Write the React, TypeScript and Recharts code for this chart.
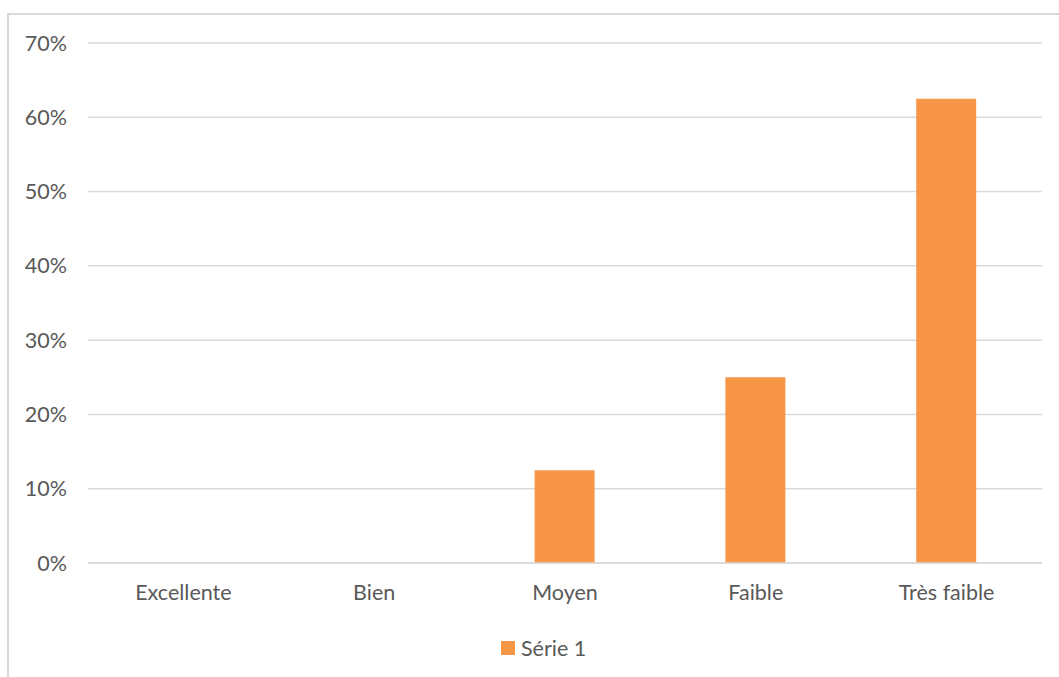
import React from 'react';
import { BarChart, Bar, XAxis, YAxis, CartesianGrid, Legend } from 'recharts';

const categories = ['Excellente', 'Bien', 'Moyen', 'Faible', 'Très faible'];
const serie1 = [0, 0, 0.125, 0.25, 0.625];
const yTicks = [0, 0.1, 0.2, 0.3, 0.4, 0.5, 0.6, 0.7];
const seriesName = 'Série 1';

const data = categories.map((name, i) => ({ name, value: serie1[i] }));

const ORANGE = '#F79646';
const TEXT = '#595959';
const GRID = '#D9D9D9';
const FONT = 'Lato, "Open Sans", sans-serif';
const FONT_SIZE = 21.5;

const LegendContent = () => (
  <div style={{ display: 'flex', alignItems: 'center', marginLeft: 492, height: 22, fontFamily: FONT, fontSize: FONT_SIZE, color: TEXT }}>
    <span style={{ width: 14, height: 14, background: ORANGE, display: 'inline-block', marginRight: 6 }} />
    <span>{seriesName}</span>
  </div>
);

export default function App() {
  return (
    <div style={{ position: 'fixed', inset: 0, overflow: 'hidden', background: '#fff' }}>
      <div
        style={{
          position: 'absolute',
          left: 7,
          top: 13,
          width: 1060,
          height: 670,
          borderTop: `2px solid ${GRID}`,
          borderLeft: `2px solid ${GRID}`,
        }}
      >
        <BarChart width={1050} height={660} data={data} margin={{ top: 28, right: 17, bottom: 40, left: 0 }}>
          <CartesianGrid vertical={false} stroke={GRID} strokeWidth={1.5} />
          <XAxis
            dataKey="name"
            axisLine={{ stroke: GRID, strokeWidth: 1.5 }}
            tickLine={false}
            height={50}
            tickMargin={16}
            tick={{ fill: TEXT, fontSize: FONT_SIZE, fontFamily: FONT }}
          />
          <YAxis
            width={79}
            domain={[0, 0.7]}
            ticks={yTicks}
            axisLine={false}
            tickLine={false}
            tickSize={0}
            tickMargin={21}
            tickFormatter={(v: number) => `${Math.round(v * 100)}%`}
            tick={{ fill: TEXT, fontSize: FONT_SIZE, fontFamily: FONT }}
          />
          <Legend
            verticalAlign="bottom"
            content={<LegendContent />}
            wrapperStyle={{ top: 622, bottom: 'auto', left: 0, width: 1050 }}
          />
          <Bar dataKey="value" name={seriesName} fill={ORANGE} barSize={60} isAnimationActive={false} />
        </BarChart>
      </div>
    </div>
  );
}
